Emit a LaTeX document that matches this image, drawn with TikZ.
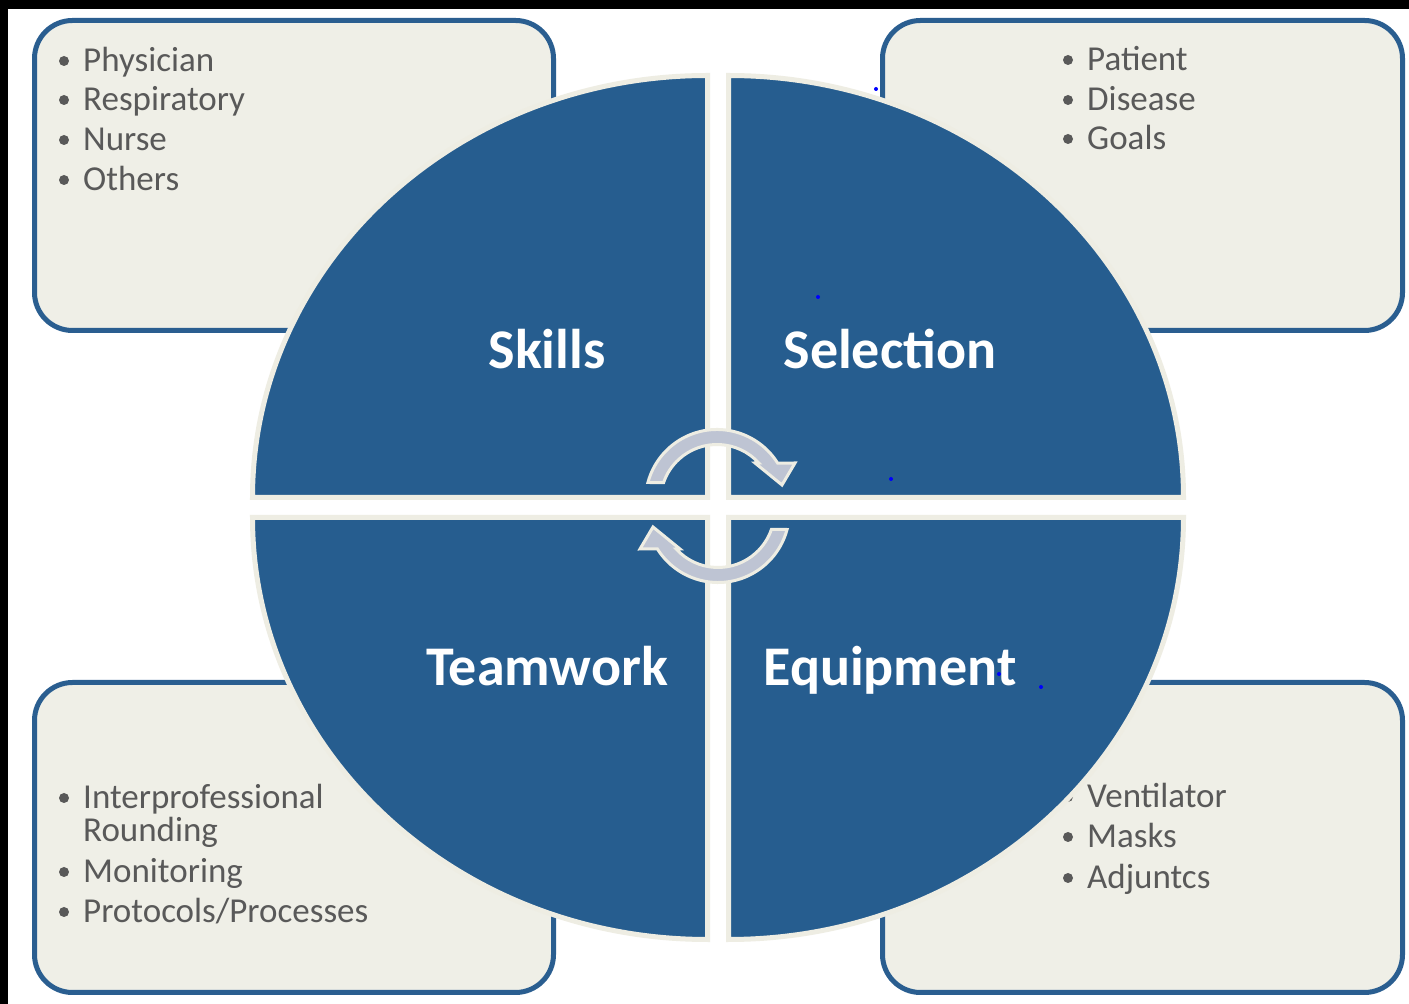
\documentclass[tikz,border=0pt]{standalone}
\usepackage{fontspec}
\setmainfont{Carlito}
\usetikzlibrary{calc}
\definecolor{qblue}{HTML}{265D8F}
\definecolor{bxborder}{HTML}{2A5E90}
\definecolor{bxfill}{HTML}{EFEFE7}
\definecolor{cream}{HTML}{EEEDE3}
\definecolor{txtgray}{HTML}{595959}
\definecolor{arrfill}{HTML}{BEC4D3}
\tikzset{
  infobox/.style={draw=bxborder, line width=5pt, fill=bxfill, rounded corners=38pt},
  quarter/.style={draw=cream, line width=5pt, fill=qblue, line join=miter},
  bigl/.style={text=white, font=\fontsize{56}{62}\selectfont\bfseries, anchor=base, inner sep=0pt},
  item/.style={text=txtgray, font=\fontsize{35}{40}\selectfont, anchor=base west, inner sep=0pt},
  bdot/.style={circle, fill=txtgray, minimum size=10pt, inner sep=0pt},
  cyc/.style={draw=cream, line width=3pt, fill=arrfill, line join=miter},
  speck/.style={circle, fill=blue, minimum size=4pt, inner sep=0pt},
}
\begin{document}
\begin{tikzpicture}[x=1pt,y=1pt]
\useasboundingbox (0,0) rectangle (1409,1004);
\fill[white] (0,0) rectangle (1409,1004);
\fill[black] (0,0) rectangle (8,1004);
\fill[black] (0,995) rectangle (1409,1004);

% boxes
\draw[infobox] (34.5,673.5) rectangle (553.5,983.5);
\draw[infobox] (882.5,673.5) rectangle (1402.5,983.5);
\draw[infobox] (34.5,11.5) rectangle (553.5,321.5);
\draw[infobox] (882.5,11.5) rectangle (1402.5,321.5);

% top-left items
\node[bdot] (d1) at (64,943) {};
\node[item] (t1) at (83,932) {Physician};
\node[bdot] (d2) at (64,904) {};
\node[item] (t2) at (83,893) {Respiratory};
\node[bdot] (d3) at (64,864) {};
\node[item] (t3) at (83,853) {Nurse};
\node[bdot] (d4) at (64,824) {};
\node[item] (t4) at (83,813) {Others};

% top-right items
\node[bdot] (d5) at (1068,944) {};
\node[item] (t5) at (1087,933) {Patient};
\node[bdot] (d6) at (1068,904) {};
\node[item] (t6) at (1087,893) {Disease};
\node[bdot] (d7) at (1068,865) {};
\node[item] (t7) at (1087,854) {Goals};

% bottom-left items
\node[bdot] (d8) at (64,206) {};
\node[item] (t8) at (83,195) {Interprofessional};
\node[item] (t8b) at (83,162) {Rounding};
\node[bdot] (d9) at (64,132) {};
\node[item] (t9) at (83,121) {Monitoring};
\node[bdot] (d10) at (64,92) {};
\node[item] (t10) at (83,81) {Protocols/Processes};

% bottom-right items
\node[bdot] (d11) at (1068,207) {};
\node[item] (t11) at (1087,196) {Ventilator};
\node[bdot] (d12) at (1068,167) {};
\node[item] (t12) at (1087,156) {Masks};
\node[bdot] (d13) at (1068,126) {};
\node[item] (t13) at (1087,115) {Adjuntcs};

% quarters
\draw[quarter] (707.5,506.5) -- ++(-455,0) arc[start angle=180,end angle=90,x radius=455pt,y radius=422pt] -- cycle;
\draw[quarter] (728.5,506.5) -- ++(455,0) arc[start angle=0,end angle=90,x radius=455pt,y radius=422pt] -- cycle;
\draw[quarter] (707.5,486.5) -- ++(-455,0) arc[start angle=180,end angle=270,x radius=455pt,y radius=422pt] -- cycle;
\draw[quarter] (728.5,486.5) -- ++(455,0) arc[start angle=0,end angle=-90,x radius=455pt,y radius=422pt] -- cycle;

% labels
\node[bigl] (skills) at (547,635) {Skills};
\node[bigl] (selection) at (890,635) {Selection};
\node[bigl] (teamwork) at (547,318) {Teamwork};
\node[bigl] (equipment) at (890,318) {Equipment};

% cycle arrows
\begin{scope}[shift={(717,503)}]
\draw[cyc] (165:71.5) arc[start angle=165,end angle=32,radius=71.5pt]
  -- (78,38) -- (65,16) -- (38,38)
  -- (42.3:56.5) arc[start angle=42.3,end angle=161,radius=56.5pt] -- cycle;
\end{scope}
\begin{scope}[shift={(718,493)}]
\draw[cyc] (345:71.5) arc[start angle=345,end angle=212,radius=71.5pt]
  -- (-78,-38) -- (-65,-16) -- (-38,-38)
  -- (222.3:56.5) arc[start angle=222.3,end angle=341,radius=56.5pt] -- cycle;
\end{scope}

% specks
\node[speck] (s1) at (876,915) {};
\node[speck] (s2) at (818,707) {};
\node[speck] (s3) at (891,525) {};
\node[speck] (s4) at (999,330) {};
\node[speck] (s5) at (1041,317) {};
\end{tikzpicture}
\end{document}
